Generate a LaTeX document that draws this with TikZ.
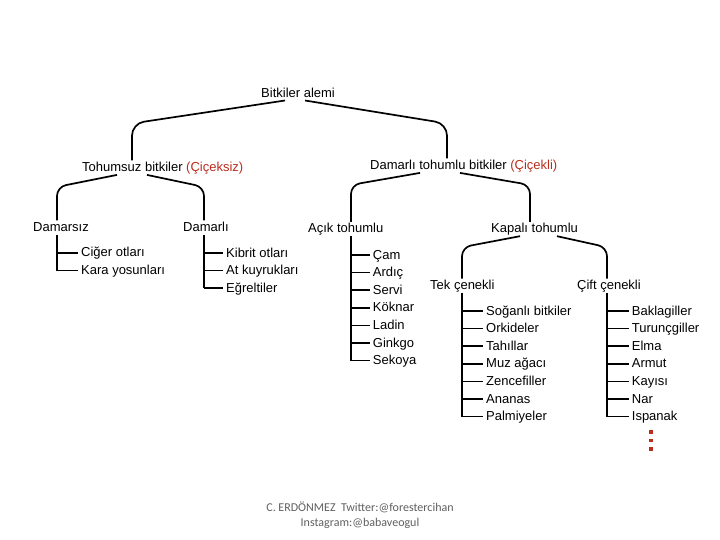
\documentclass[tikz,border=0pt]{standalone}
\usepackage{fontspec}
\setmainfont{Liberation Sans}
\newfontfamily\footfont{Carlito}
\usetikzlibrary{calc}

\definecolor{cicekred}{RGB}{185,45,30}
\definecolor{footgray}{RGB}{95,95,95}

\tikzset{
	lbl/.style={anchor=west,inner sep=1pt,text height=10pt,text depth=2pt,font=\fontsize{13}{15}\selectfont},
	branch/.style={line width=1.7pt,rounded corners=#1},
	comb/.style={line width=1.6pt},
}

% parent -> child bracket: start, end, drop, radius
\newcommand\fork[4]{\draw[branch=#4] (#1) let \p1=(#1), \p2=(#2) in -- (\x2,\y1-#3) -- (#2);}

\begin{document}
\begin{tikzpicture}[x=1pt,y=-1pt]
	\useasboundingbox (0,0) rectangle (720,540);

	% headings
	\node[lbl] (alem) at (260,93.3) {Bitkiler alemi};
	\node[lbl] (tohumsuz) at (81,167.7) {Tohumsuz bitkiler \textcolor{cicekred}{(Çiçeksiz)}};
	\node[lbl] (damarlit) at (369,165.7) {Damarlı tohumlu bitkiler \textcolor{cicekred}{(Çiçekli)}};
	\node[lbl] (damarsiz) at (32,227.7) {Damarsız};
	\node[lbl] (damarli) at (182,227.7) {Damarlı};
	\node[lbl] (acik) at (307,229) {Açık tohumlu};
	\node[lbl] (kapali) at (490,229) {Kapalı tohumlu};
	\node[lbl] (tek) at (429,285.7) {Tek çenekli};
	\node[lbl] (cift) at (576,285.7) {Çift çenekli};

	% brackets
	\fork{[xshift=25pt]alem.south west}{[xshift=51pt]tohumsuz.north west}{23pt}{12pt}
	\fork{[xshift=45pt]alem.south west}{[xshift=78pt]damarlit.north west}{23pt}{12pt}
	\fork{[xshift=36pt]tohumsuz.south west}{[xshift=25pt]damarsiz.north west}{12pt}{9pt}
	\fork{[xshift=66pt]tohumsuz.south west}{[xshift=22pt]damarli.north west}{12pt}{9pt}
	\fork{[xshift=51pt]damarlit.south west}{[xshift=44pt]acik.north west}{12pt}{9pt}
	\fork{[xshift=91pt]damarlit.south west}{[xshift=40pt]kapali.north west}{12pt}{9pt}
	\fork{[xshift=30pt]kapali.south west}{[xshift=33pt]tek.north west}{11pt}{9pt}
	\fork{[xshift=67pt]kapali.south west}{[xshift=31pt]cift.north west}{11pt}{9pt}

	% lists
	\coordinate (damarsiz-v) at ([xshift=25pt]damarsiz.south west);
	\foreach \t [count=\i] in {Ciğer otları,Kara yosunları}{
		\node[lbl] (damarsiz-\i) at (80,{252.7+(\i-1)*17.8}) {\t};
		\draw[comb] (damarsiz-v |- damarsiz-\i.west) -- ([xshift=-2pt]damarsiz-\i.west);
	}
	\draw[comb] (damarsiz-v) -- (damarsiz-v |- damarsiz-2.west);

	\coordinate (damarli-v) at ([xshift=22pt]damarli.south west);
	\foreach \t [count=\i] in {Kibrit otları,At kuyrukları,Eğreltiler}{
		\node[lbl] (damarli-\i) at (225,{253+(\i-1)*17.6}) {\t};
		\draw[comb] (damarli-v |- damarli-\i.west) -- ([xshift=-2pt]damarli-\i.west);
	}
	\draw[comb] (damarli-v) -- (damarli-v |- damarli-3.west);

	\coordinate (acik-v) at ([xshift=44pt]acik.south west);
	\foreach \t [count=\i] in {Çam,Ardıç,Servi,Köknar,Ladin,Ginkgo,Sekoya}{
		\node[lbl] (acik-\i) at (371.7,{255+(\i-1)*17.6}) {\t};
		\draw[comb] (acik-v |- acik-\i.west) -- ([xshift=-2pt]acik-\i.west);
	}
	\draw[comb] (acik-v) -- (acik-v |- acik-7.west);

	\coordinate (tek-v) at ([xshift=33pt]tek.south west);
	\foreach \t [count=\i] in {Soğanlı bitkiler,Orkideler,Tahıllar,Muz ağacı,Zencefiller,Ananas,Palmiyeler}{
		\node[lbl] (tek-\i) at (485,{311+(\i-1)*17.6}) {\t};
		\draw[comb] (tek-v |- tek-\i.west) -- ([xshift=-2pt]tek-\i.west);
	}
	\draw[comb] (tek-v) -- (tek-v |- tek-7.west);

	\coordinate (cift-v) at ([xshift=31pt]cift.south west);
	\foreach \t [count=\i] in {Baklagiller,Turunçgiller,Elma,Armut,Kayısı,Nar,Ispanak}{
		\node[lbl] (cift-\i) at (630.7,{311+(\i-1)*17.6}) {\t};
		\draw[comb] (cift-v |- cift-\i.west) -- ([xshift=-2pt]cift-\i.west);
	}
	\draw[comb] (cift-v) -- (cift-v |- cift-7.west);

	% more items
	\foreach \y in {432,440.5,449}
		\fill[cicekred] (649.3,{\y-1.7}) rectangle ++(3.5,3.5);

	\node[font=\footfont\fontsize{12}{15}\selectfont,text=footgray,align=center] (credit) at (360,515.5) {C. ERDÖNMEZ\ \ Twitter:@forestercihan\\Instagram:@babaveogul};
\end{tikzpicture}
\end{document}
